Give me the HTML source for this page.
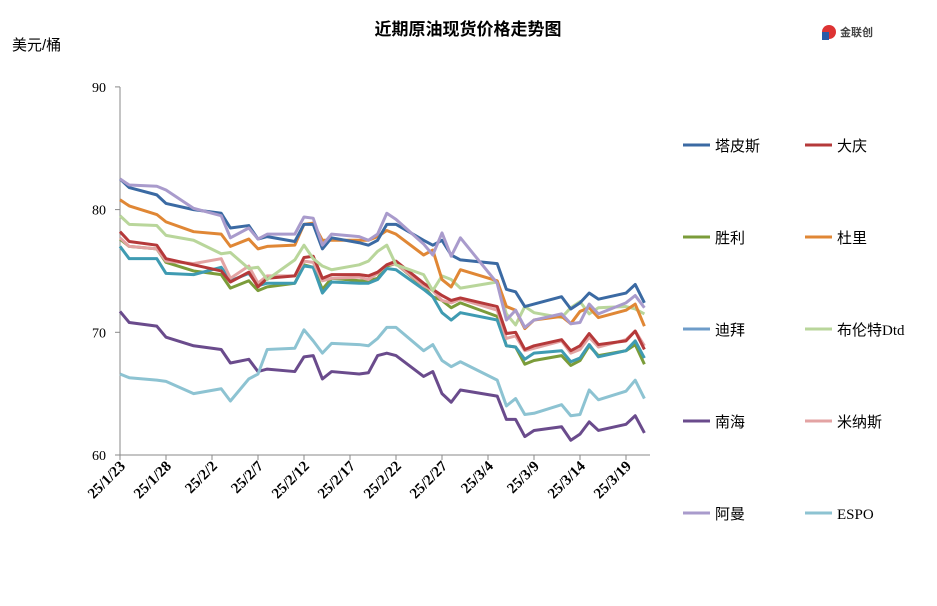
<!DOCTYPE html>
<html><head><meta charset="utf-8"><style>
body{margin:0;background:#fff;font-family:"Liberation Sans","Noto Sans CJK SC",sans-serif}
</style></head><body>
<svg id="c" width="937" height="601" xmlns="http://www.w3.org/2000/svg">
<text x="468" y="35" text-anchor="middle" font-size="17" font-weight="bold" font-family="Liberation Sans, Noto Sans CJK SC, sans-serif">近期原油现货价格走势图</text>
<text x="12" y="50" font-size="15" font-family="Liberation Sans, Noto Sans CJK SC, sans-serif">美元/桶</text>
<g><circle cx="829" cy="32" r="7" fill="#d33"/><rect x="822" y="32" width="7" height="8" fill="#2a5aa8"/><text x="840" y="36" font-size="11" font-weight="bold" fill="#444" font-family="Liberation Sans, Noto Sans CJK SC, sans-serif">金联创</text></g>
<g id="axes"></g><g id="series"></g><g id="legend"></g>
</svg>
<script>
const days=[0,1,4,5,8,11,12,14,15,16,19,20,21,22,23,26,27,28,29,30,33,34,35,36,37,41,42,43,44,45,48,49,50,51,52,55,56,57];
const xTickLabels=["25/1/23","25/1/28","25/2/2","25/2/7","25/2/12","25/2/17","25/2/22","25/2/27","25/3/4","25/3/9","25/3/14","25/3/19"];
const yTicks=[60,70,80,90];
const names=["塔皮斯","大庆","胜利","杜里","迪拜","布伦特Dtd","南海","米纳斯","阿曼","ESPO"];
const colors=["#3b6aa3","#b5393a","#7b9c3a","#e08735","#6e9cc9","#b9d69b","#6a4b8c","#e3a3a3","#a99bcc","#8dc3d2"];
const tapis=[82.5,81.8,81.2,80.5,80.0,79.7,78.5,78.7,77.6,77.8,77.4,78.8,78.8,76.8,77.7,77.3,77.1,77.5,78.8,78.8,77.5,77.1,77.5,76.3,75.9,75.6,73.5,73.3,72.1,72.3,72.9,71.9,72.4,73.2,72.7,73.2,73.9,72.4];
const daqing=[78.2,77.4,77.1,76.0,75.5,75.0,74.1,74.9,73.7,74.4,74.6,76.1,76.2,74.4,74.7,74.7,74.6,74.9,75.5,75.8,74.0,73.5,73.0,72.6,72.8,72.1,69.9,70.0,68.6,68.9,69.4,68.5,68.9,69.9,69.0,69.3,70.1,68.6];
const shengli=[77.6,77.0,76.8,75.7,75.0,74.7,73.6,74.2,73.4,73.7,74.0,75.5,75.3,73.5,74.4,74.2,74.2,74.4,75.4,75.6,73.7,72.9,72.6,72.0,72.4,71.3,68.9,68.8,67.4,67.7,68.1,67.3,67.7,68.9,68.1,68.5,69.0,67.4];
const duri=[80.8,80.3,79.6,79.0,78.2,78.0,77.0,77.6,76.8,77.0,77.1,78.8,78.9,77.5,77.5,77.5,77.5,77.8,78.3,78.0,76.3,76.7,74.3,73.7,75.1,74.2,72.1,71.8,70.3,71.0,71.3,70.7,71.7,72.0,71.2,71.8,72.3,70.5];
const dubai=[77.0,76.0,76.0,74.8,74.7,75.3,74.2,74.8,73.8,74.0,74.0,75.4,75.3,73.2,74.1,74.0,74.0,74.3,75.2,75.1,73.5,72.9,71.6,71.0,71.6,71.0,68.9,68.8,67.8,68.3,68.5,67.6,67.9,69.0,68.0,68.5,69.3,67.9];
const brent=[79.5,78.8,78.7,77.9,77.5,76.4,76.5,75.2,75.3,74.3,75.9,77.1,76.0,75.4,75.1,75.5,75.8,76.6,77.1,75.5,74.7,73.4,74.6,74.3,73.6,74.1,71.5,70.6,72.1,71.6,71.2,72.0,72.5,71.5,72.0,72.1,71.9,71.5];
const nanhai=[71.7,70.8,70.5,69.6,68.9,68.6,67.5,67.8,66.8,67.0,66.8,68.0,68.1,66.2,66.8,66.6,66.7,68.1,68.3,68.1,66.4,66.8,65.0,64.3,65.3,64.8,62.9,62.9,61.5,62.0,62.3,61.2,61.7,62.7,62.0,62.5,63.2,61.8];
const minas=[77.7,77.0,76.8,75.8,75.6,76.0,74.4,75.4,74.0,74.6,74.6,75.8,75.7,74.2,74.4,74.5,74.3,74.8,75.5,75.6,73.8,73.4,72.6,72.4,72.7,71.8,69.5,69.7,68.5,68.7,69.3,68.3,68.6,69.6,68.8,69.4,70.1,68.9];
const oman=[82.5,82.0,81.9,81.6,80.1,79.5,77.7,78.5,77.6,78.0,78.0,79.4,79.3,77.1,78.0,77.8,77.5,78.0,79.7,79.2,77.2,76.3,78.1,76.2,77.7,74.0,71.0,71.8,70.4,71.0,71.5,70.7,70.8,72.3,71.5,72.4,73.0,72.0];
const espo=[66.6,66.3,66.1,66.0,65.0,65.4,64.4,66.2,66.6,68.6,68.7,70.2,69.3,68.3,69.1,69.0,68.9,69.5,70.4,70.4,68.5,69.0,67.7,67.2,67.6,66.1,64.0,64.6,63.3,63.4,64.1,63.2,63.3,65.3,64.5,65.2,66.1,64.6];
const seriesData=[tapis,daqing,shengli,duri,dubai,brent,nanhai,minas,oman,espo];
const drawOrder=[6,9,2,4,7,1,5,3,0,8];
const X0=120,XD=9.2,Y0=455,YU=12.27;
const xs=d=>X0+d*XD, ys=v=>Y0-(v-60)*YU;
const NS="http://www.w3.org/2000/svg";
function mk(t,a,p){const e=document.createElementNS(NS,t);for(const k in a)e.setAttribute(k,a[k]);p.appendChild(e);return e;}
const ax=document.getElementById('axes');
const yl=mk('line',{x1:X0,y1:87,x2:X0,y2:Y0,stroke:'#888','stroke-width':1},ax);


const xl=mk('line',{x1:X0,y1:Y0,x2:650,y2:Y0,stroke:'#888','stroke-width':1},ax);


yTicks.forEach(v=>{mk('line',{x1:X0-5,y1:ys(v),x2:X0,y2:ys(v),stroke:'#888'},ax);
const t=mk('text',{x:106,y:ys(v)+5,'text-anchor':'end','font-size':14,'font-family':'Liberation Serif, serif'},ax);t.textContent=v;

});
xTickLabels.forEach((s,i)=>{const x=xs(i*5);
mk('line',{x1:x,y1:Y0,x2:x,y2:Y0+5,stroke:'#888'},ax);
const t=mk('text',{x:x+6,y:Y0+12,'text-anchor':'end','font-size':15,'font-weight':'bold','font-family':'Liberation Serif, serif',transform:`rotate(-45 ${x+6} ${Y0+12})`},ax);t.textContent=s;

});
const sg=document.getElementById('series');
drawOrder.forEach(i=>{const d=seriesData[i].map((v,j)=>xs(days[j])+','+ys(v)).join(' ');
const p=mk('polyline',{points:d,fill:'none',stroke:i===4?'#3f9bb2':colors[i],'stroke-width':3,'stroke-linejoin':'round'},sg);

});
const lg=document.getElementById('legend');
names.forEach((n,i)=>{const col=i%2,row=Math.floor(i/2);const lx=683+col*122,ly=145+row*92;
mk('line',{x1:lx,y1:ly,x2:lx+27,y2:ly,stroke:colors[i],'stroke-width':3},lg);
const t=mk('text',{x:lx+32,y:ly+6,'font-size':15,'font-family':'Liberation Serif, Noto Sans CJK SC, sans-serif'},lg);t.textContent=n;

});
</script>
</body></html>
